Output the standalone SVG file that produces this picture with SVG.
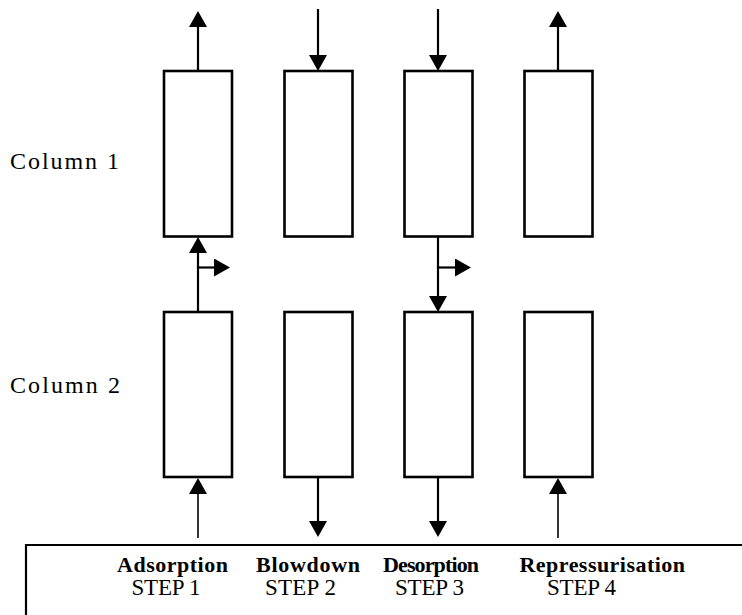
<svg xmlns="http://www.w3.org/2000/svg" width="742" height="615" viewBox="0 0 742 615">
  <style>
    .col { fill: #fff; stroke: #000; stroke-width: 2.6; }
    .ln { stroke: #000; stroke-width: 2.2; fill: none; }
    .thin { stroke: #000; stroke-width: 1.6; fill: none; }
    .lbl { font-family: "Liberation Serif", "Times New Roman", serif; font-size: 24px; fill: #000; }
    .step { font-family: "Liberation Serif", "Times New Roman", serif; font-size: 23px; fill: #000; }
    .name { font-family: "Liberation Serif", "Times New Roman", serif; font-size: 22px; font-weight: bold; fill: #000; }
  </style>
  <defs>
    <marker id="ah" viewBox="0 0 16 18" refX="0" refY="9" markerWidth="16" markerHeight="18" markerUnits="userSpaceOnUse" orient="auto">
      <path d="M0,0 L16,9 L0,18 z" fill="#000"/>
    </marker>
  </defs>
  <rect width="742" height="615" fill="#fff"/>

  <g id="label-column1"><text class="lbl" x="10" y="168.5" textLength="109" lengthAdjust="spacing">Column 1</text></g>
  <g id="label-column2"><text class="lbl" x="10" y="392.5" textLength="110" lengthAdjust="spacing">Column 2</text></g>

  <g id="step1-col1"><rect class="col" x="164" y="71" width="68" height="165.5"/></g>
  <g id="step2-col1"><rect class="col" x="284.5" y="71" width="68" height="165.5"/></g>
  <g id="step3-col1"><rect class="col" x="404.5" y="71" width="68" height="165.5"/></g>
  <g id="step4-col1"><rect class="col" x="524.5" y="71" width="68" height="165.5"/></g>

  <g id="step1-col2"><rect class="col" x="164" y="312" width="68" height="165"/></g>
  <g id="step2-col2"><rect class="col" x="284.5" y="312" width="68" height="165"/></g>
  <g id="step3-col2"><rect class="col" x="404.5" y="312" width="68" height="165"/></g>
  <g id="step4-col2"><rect class="col" x="524.5" y="312" width="68" height="165"/></g>

  <g id="connectors">
    <line class="ln" x1="198" y1="71" x2="198" y2="27" marker-end="url(#ah)"/>
    <line class="ln" x1="318" y1="9" x2="318" y2="55" marker-end="url(#ah)"/>
    <line class="ln" x1="438" y1="9" x2="438" y2="55" marker-end="url(#ah)"/>
    <line class="ln" x1="558" y1="71" x2="558" y2="27" marker-end="url(#ah)"/>
    <line class="ln" x1="198" y1="312" x2="198" y2="253" marker-end="url(#ah)"/>
    <line class="ln" x1="198" y1="267.5" x2="214" y2="267.5" marker-end="url(#ah)"/>
    <line class="ln" x1="438" y1="236" x2="438" y2="296" marker-end="url(#ah)"/>
    <line class="ln" x1="438" y1="267.5" x2="455" y2="267.5" marker-end="url(#ah)"/>
    <line class="thin" x1="198" y1="538" x2="198" y2="494" marker-end="url(#ah)"/>
    <line class="ln" x1="318" y1="477" x2="318" y2="521" marker-end="url(#ah)"/>
    <line class="ln" x1="438" y1="477" x2="438" y2="521" marker-end="url(#ah)"/>
    <line class="thin" x1="558" y1="538" x2="558" y2="494" marker-end="url(#ah)"/>
  </g>

  <g id="legend">
    <path class="ln" d="M26,620 V545 H750"/>
    <text class="name" x="117" y="571.5" textLength="111" lengthAdjust="spacing">Adsorption</text>
    <text class="step" x="131.5" y="595" textLength="69" lengthAdjust="spacing">STEP 1</text>
    <text class="name" x="256" y="571.5" textLength="104" lengthAdjust="spacing">Blowdown</text>
    <text class="step" x="265" y="595" textLength="71" lengthAdjust="spacing">STEP 2</text>
    <text class="name" x="383" y="571.5" textLength="96" lengthAdjust="spacing">Desorption</text>
    <text class="step" x="395" y="595" textLength="69" lengthAdjust="spacing">STEP 3</text>
    <text class="name" x="519.5" y="571.5" textLength="165.5" lengthAdjust="spacing">Repressurisation</text>
    <text class="step" x="547" y="595" textLength="69" lengthAdjust="spacing">STEP 4</text>
  </g>
</svg>
